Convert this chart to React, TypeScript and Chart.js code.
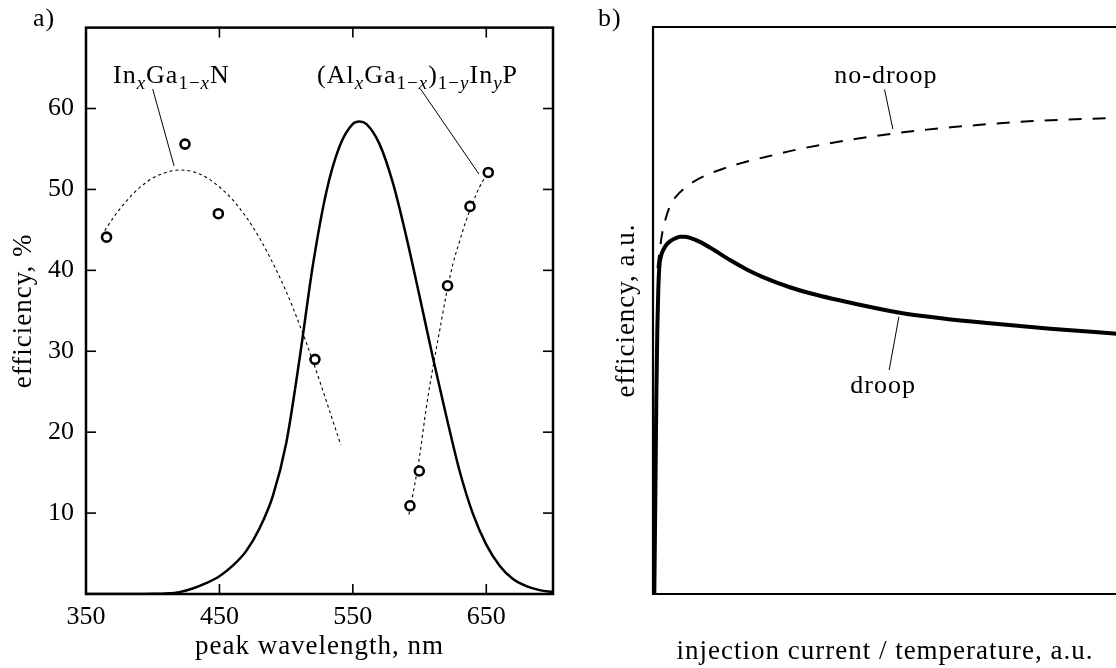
import React, { useEffect, useRef } from "react";
import { Chart, registerables } from "chart.js";

Chart.register(...registerables);

const SERIF = '"Liberation Serif", "Times New Roman", serif';

// ---------------- panel a) ----------------
const WAVELENGTH_TICKS = [350, 450, 550, 650];
const EFFICIENCY_TICKS = [10, 20, 30, 40, 50, 60];

// eye-sensitivity-like curve (solid)
const SENS_WAVELENGTH = [350, 360, 370, 380, 390, 400, 410, 420, 430, 440, 450, 460, 470, 480, 490, 500, 510, 520, 530, 540, 550, 555, 560, 570, 580, 590, 600, 610, 620, 630, 640, 650, 660, 670, 680, 690, 700];
const SENS_VALUE = [0, 0, 0, 0, 0.01, 0.02, 0.07, 0.23, 0.68, 1.34, 2.2, 3.5, 5.3, 8.1, 12.1, 18.6, 29.0, 40.6, 49.6, 55.3, 58.1, 58.4, 58.1, 55.6, 50.8, 44.2, 36.8, 29.2, 22.0, 15.2, 9.9, 6.1, 3.5, 1.85, 0.98, 0.48, 0.24];

// InGaN measured points and fit
const INGAN_WAVELENGTH = [365.4, 424.2, 449.2, 521.6];
const INGAN_EFFICIENCY = [44.1, 55.6, 47.0, 29.0];
const INGAN_FIT_WAVELENGTH = [364, 370, 380, 390, 400, 410, 420, 430, 440, 450, 460, 470, 480, 490, 500, 510, 520, 530, 541];
const INGAN_FIT_EFFICIENCY = [44.9, 46.4, 48.5, 50.2, 51.4, 52.1, 52.4, 52.2, 51.5, 50.3, 48.7, 46.6, 44.0, 40.9, 37.4, 33.3, 28.8, 23.9, 18.4];

// AlGaInP measured points and fit
const ALGAINP_WAVELENGTH = [592.8, 599.8, 621.0, 637.8, 651.5];
const ALGAINP_EFFICIENCY = [10.9, 15.2, 38.1, 47.9, 52.1];
const ALGAINP_FIT_WAVELENGTH = [592, 596, 600, 605, 610, 615, 620, 625, 630, 635, 640, 645, 652];
const ALGAINP_FIT_EFFICIENCY = [9.8, 13.2, 17.0, 23.0, 28.0, 32.5, 37.0, 40.8, 43.6, 46.2, 48.4, 50.3, 52.3];

// rich labels: [text, kind] kind "" normal, "s" subscript, "i" italic subscript
const INGAN_LABEL: [string, string][] = [["In", ""], ["x", "i"], ["Ga", ""], ["1−", "s"], ["x", "i"], ["N", ""]];
const ALGAINP_LABEL: [string, string][] = [["(Al", ""], ["x", "i"], ["Ga", ""], ["1−", "s"], ["x", "i"], [")", ""], ["1−", "s"], ["y", "i"], ["In", ""], ["y", "i"], ["P", ""]];

// ---------------- panel b) ----------------
const DROOP_CURRENT = [0.28, 0.5, 0.71, 0.93, 1.14, 1.36, 1.72, 2.22, 2.9, 3.66, 4.74, 5.82, 6.9, 7.97, 10.1, 12.9, 16.6, 20.3, 23.7, 29.5, 34.5, 44.6, 53.2, 62.5, 72.0, 85.6, 100];
const DROOP_EFFICIENCY = [0, 16.6, 34.2, 46.6, 53.6, 57.7, 59.6, 60.7, 61.6, 62.2, 62.7, 63.0, 63.0, 62.8, 62.1, 60.8, 58.9, 57.2, 55.9, 54.1, 52.9, 51.0, 49.6, 48.6, 47.8, 46.8, 45.9];
const NODROOP_CURRENT = [0.97, 1.5, 2.05, 2.8, 3.66, 4.96, 6.68, 8.7, 13.7, 19.5, 25.9, 31.7, 38.1, 43.9, 51.8, 59.0, 64.7, 70.5, 76.2, 81.9, 87.7, 93.5, 100];
const NODROOP_EFFICIENCY = [57.5, 61.0, 63.9, 66.4, 68.4, 70.1, 71.5, 72.7, 74.6, 76.1, 77.4, 78.5, 79.5, 80.3, 81.2, 81.9, 82.35, 82.75, 83.1, 83.4, 83.6, 83.8, 84.0];

const pts = (xs: number[], ys: number[]) => xs.map((x, i) => ({ x, y: ys[i] }));

function drawText(ctx: CanvasRenderingContext2D, text: string, x: number, y: number, size: number, align: CanvasTextAlign, rot = 0) {
  ctx.save();
  ctx.font = `${size}px ${SERIF}`;
  (ctx as any).letterSpacing = "1px";
  ctx.fillStyle = "#000";
  ctx.textAlign = align;
  ctx.textBaseline = "alphabetic";
  ctx.translate(x, y);
  if (rot) ctx.rotate(rot);
  ctx.fillText(text, 0, 0);
  ctx.restore();
}

function drawRich(ctx: CanvasRenderingContext2D, segs: [string, string][], cx: number, baseline: number) {
  const big = 26, small = 19, shift = 6;
  const fontFor = (k: string) => (k === "" ? `${big}px ${SERIF}` : k === "i" ? `italic ${small}px ${SERIF}` : `${small}px ${SERIF}`);
  ctx.save();
  (ctx as any).letterSpacing = "1px";
  ctx.fillStyle = "#000";
  ctx.textAlign = "left";
  ctx.textBaseline = "alphabetic";
  let w = 0;
  for (const [t, k] of segs) {
    ctx.font = fontFor(k);
    w += ctx.measureText(t).width;
  }
  let x = cx - w / 2;
  for (const [t, k] of segs) {
    ctx.font = fontFor(k);
    ctx.fillText(t, x, baseline + (k === "" ? 0 : shift));
    x += ctx.measureText(t).width;
  }
  ctx.restore();
}

function line(ctx: CanvasRenderingContext2D, x1: number, y1: number, x2: number, y2: number, w: number) {
  ctx.save();
  ctx.strokeStyle = "#000";
  ctx.lineWidth = w;
  ctx.beginPath();
  ctx.moveTo(x1, y1);
  ctx.lineTo(x2, y2);
  ctx.stroke();
  ctx.restore();
}

const decorA = {
  id: "decorA",
  afterDraw(chart: any) {
    const { ctx, chartArea: a, scales } = chart;
    const xs = scales.x, ys = scales.y;
    ctx.save();
    ctx.strokeStyle = "#000";
    ctx.lineWidth = 2.5;
    ctx.strokeRect(a.left, a.top, a.right - a.left, a.bottom - a.top);
    ctx.restore();
    const tl = 10;
    for (const v of WAVELENGTH_TICKS) {
      const px = xs.getPixelForValue(v);
      line(ctx, px, a.bottom, px, a.bottom - tl, 1.6);
      line(ctx, px, a.top, px, a.top + tl, 1.6);
    }
    for (const v of EFFICIENCY_TICKS) {
      const py = ys.getPixelForValue(v);
      line(ctx, a.left, py, a.left + tl, py, 1.6);
      line(ctx, a.right, py, a.right - tl, py, 1.6);
    }
    drawText(ctx, "peak wavelength, nm", (a.left + a.right) / 2, 654, 27, "center");
    drawText(ctx, "efficiency, %", 31, (a.top + a.bottom) / 2, 27, "center", -Math.PI / 2);
    drawText(ctx, "a)", 33, 26, 26, "left");
    line(ctx, xs.getPixelForValue(400), ys.getPixelForValue(62.4), xs.getPixelForValue(416), ys.getPixelForValue(52.9), 1);
    drawRich(ctx, INGAN_LABEL, xs.getPixelForValue(414), ys.getPixelForValue(63.2));
    line(ctx, xs.getPixelForValue(600.8), ys.getPixelForValue(62.4), xs.getPixelForValue(644.5), ys.getPixelForValue(51.9), 1);
    drawRich(ctx, ALGAINP_LABEL, xs.getPixelForValue(598.5), ys.getPixelForValue(63.2));
  },
};

const decorB = {
  id: "decorB",
  afterDraw(chart: any) {
    const { ctx, chartArea: a, scales } = chart;
    const xs = scales.x, ys = scales.y;
    ctx.save();
    ctx.strokeStyle = "#000";
    ctx.lineWidth = 2.2;
    ctx.beginPath();
    ctx.moveTo(a.right + 2, a.top);
    ctx.lineTo(a.left, a.top);
    ctx.lineTo(a.left, a.bottom);
    ctx.lineTo(a.right + 2, a.bottom);
    ctx.stroke();
    ctx.restore();
    drawText(ctx, "injection current / temperature, a.u.", (a.left + a.right) / 2, 659, 27, "center");
    drawText(ctx, "efficiency, a.u.", 64, (a.top + a.bottom) / 2, 27, "center", -Math.PI / 2);
    drawText(ctx, "b)", 28, 26, 26, "left");
    line(ctx, xs.getPixelForValue(49.9), ys.getPixelForValue(89.0), xs.getPixelForValue(51.7), ys.getPixelForValue(82.0), 1);
    drawText(ctx, "no-droop", xs.getPixelForValue(50.2), ys.getPixelForValue(90.1), 26, "center");
    line(ctx, xs.getPixelForValue(50.9), ys.getPixelForValue(39.5), xs.getPixelForValue(53.0), ys.getPixelForValue(48.9), 1);
    drawText(ctx, "droop", xs.getPixelForValue(49.6), ys.getPixelForValue(35.4), 26, "center");
  },
};

const hiddenGrid = { display: false, drawTicks: false };

function configA(): any {
  return {
    type: "line",
    data: {
      datasets: [
        { label: "InGaN", data: pts(INGAN_WAVELENGTH, INGAN_EFFICIENCY), showLine: false, pointRadius: 4.5, pointBorderWidth: 2.6, pointBackgroundColor: "#fff", pointBorderColor: "#000" },
        { label: "AlGaInP", data: pts(ALGAINP_WAVELENGTH, ALGAINP_EFFICIENCY), showLine: false, pointRadius: 4.5, pointBorderWidth: 2.6, pointBackgroundColor: "#fff", pointBorderColor: "#000" },
        { label: "InGaN fit", data: pts(INGAN_FIT_WAVELENGTH, INGAN_FIT_EFFICIENCY), borderColor: "#000", borderWidth: 1.1, borderDash: [3, 3], pointRadius: 0, cubicInterpolationMode: "monotone", fill: false },
        { label: "AlGaInP fit", data: pts(ALGAINP_FIT_WAVELENGTH, ALGAINP_FIT_EFFICIENCY), borderColor: "#000", borderWidth: 1.1, borderDash: [3, 3], pointRadius: 0, cubicInterpolationMode: "monotone", fill: false },
        { label: "eye sensitivity", data: pts(SENS_WAVELENGTH, SENS_VALUE), borderColor: "#000", borderWidth: 2.5, pointRadius: 0, cubicInterpolationMode: "monotone", fill: false },
      ],
    },
    options: {
      responsive: false,
      animation: false,
      events: [],
      layout: { padding: { left: 0, top: 27, right: 17, bottom: 0 } },
      plugins: { legend: { display: false }, tooltip: { enabled: false } },
      scales: {
        x: {
          type: "linear", min: 350, max: 700,
          afterBuildTicks: (s: any) => { s.ticks = WAVELENGTH_TICKS.map((v) => ({ value: v })); },
          afterFit: (s: any) => { s.height = 74; },
          grid: hiddenGrid, border: { display: false },
          ticks: { font: { family: SERIF, size: 26 }, color: "#000", padding: 8, maxRotation: 0, autoSkip: false },
        },
        y: {
          type: "linear", min: 0, max: 70,
          afterBuildTicks: (s: any) => { s.ticks = EFFICIENCY_TICKS.map((v) => ({ value: v })); },
          afterFit: (s: any) => { s.width = 86; },
          grid: hiddenGrid, border: { display: false },
          ticks: { font: { family: SERIF, size: 26 }, color: "#000", padding: 12, autoSkip: false },
        },
      },
    },
    plugins: [decorA],
  };
}

function configB(): any {
  return {
    type: "line",
    data: {
      datasets: [
        { label: "droop", data: pts(DROOP_CURRENT, DROOP_EFFICIENCY), borderColor: "#000", borderWidth: 4, pointRadius: 0, cubicInterpolationMode: "monotone", fill: false },
        { label: "no-droop", data: pts(NODROOP_CURRENT, NODROOP_EFFICIENCY), borderColor: "#000", borderWidth: 2, borderDash: [13, 11], pointRadius: 0, cubicInterpolationMode: "monotone", fill: false },
      ],
    },
    options: {
      responsive: false,
      animation: false,
      events: [],
      layout: { padding: { left: 0, top: 27, right: 13, bottom: 0 } },
      plugins: { legend: { display: false }, tooltip: { enabled: false } },
      scales: {
        x: {
          type: "linear", min: 0, max: 100,
          afterFit: (s: any) => { s.height = 74; },
          grid: hiddenGrid, border: { display: false },
          ticks: { display: false },
        },
        y: {
          type: "linear", min: 0, max: 100,
          afterFit: (s: any) => { s.width = 83; },
          grid: hiddenGrid, border: { display: false },
          ticks: { display: false },
        },
      },
    },
    plugins: [decorB],
  };
}

export default function App() {
  const refA = useRef<HTMLCanvasElement>(null);
  const refB = useRef<HTMLCanvasElement>(null);
  useEffect(() => {
    const a = new Chart(refA.current as HTMLCanvasElement, configA());
    const b = new Chart(refB.current as HTMLCanvasElement, configB());
    return () => {
      a.destroy();
      b.destroy();
    };
  }, []);
  return (
    <div style={{ position: "fixed", left: 0, top: 0, width: 1116, height: 668, overflow: "hidden", background: "#fff" }}>
      <canvas ref={refA} width={570} height={668} style={{ position: "absolute", left: 0, top: 0, width: 570, height: 668 }} />
      <canvas ref={refB} width={560} height={668} style={{ position: "absolute", left: 570, top: 0, width: 560, height: 668 }} />
    </div>
  );
}
